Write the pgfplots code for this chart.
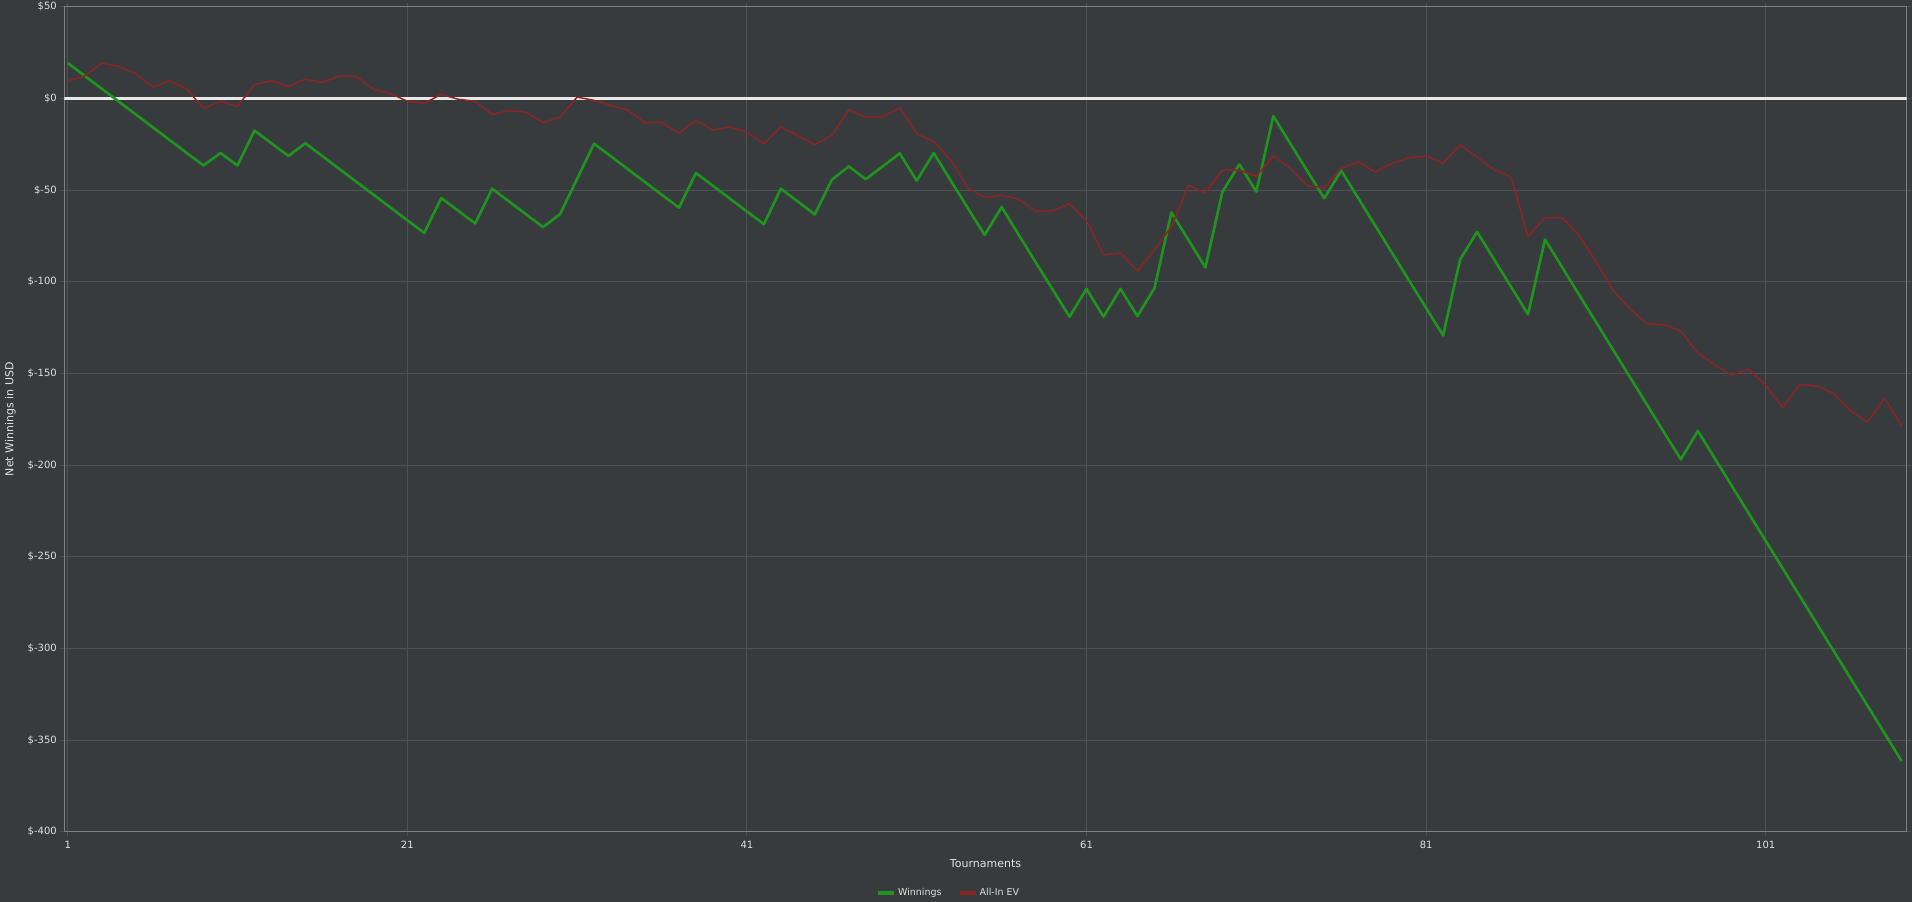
\documentclass[border=0pt]{standalone}
\usepackage{pgfplots}
\pgfplotsset{compat=1.18}
\usepackage{fontspec}
\setmainfont{DejaVu Sans}
\definecolor{bg}{RGB}{56,59,62}
\definecolor{gridc}{RGB}{78,81,85}
\definecolor{axc}{RGB}{128,128,128}
\definecolor{txt}{RGB}{224,224,224}
\definecolor{win}{RGB}{30,150,30}
\definecolor{ev}{RGB}{140,36,36}
\definecolor{zero}{RGB}{232,232,232}

\pgfplotstableread{
x y
1 19.3
2 12.3
3 5.3
4 -1.7
5 -8.7
6 -15.7
7 -22.7
8 -29.7
9 -36.6
10 -29.8
11 -36.6
12 -17.6
13 -24.5
14 -31.4
15 -24.5
16 -31.5
17 -38.5
18 -45.5
19 -52.5
20 -59.5
21 -66.5
22 -73.4
23 -54.4
24 -61.3
25 -68.2
26 -49.3
27 -56.3
28 -63.3
29 -70.2
30 -63.1
31 -43.9
32 -24.7
33 -31.7
34 -38.7
35 -45.7
36 -52.7
37 -59.6
38 -40.7
39 -47.7
40 -54.7
41 -61.7
42 -68.6
43 -49.3
44 -56.3
45 -63.3
46 -44.4
47 -37.1
48 -44.1
49 -37.1
50 -30.0
51 -44.9
52 -29.8
53 -44.8
54 -59.7
55 -74.5
56 -59.3
57 -74.3
58 -89.3
59 -104.2
60 -119.1
61 -103.9
62 -119.1
63 -103.9
64 -118.8
65 -103.5
66 -62.2
67 -77.2
68 -92.2
69 -51.1
70 -36.0
71 -50.9
72 -9.6
73 -24.6
74 -39.6
75 -54.5
76 -39.4
77 -54.4
78 -69.4
79 -84.4
80 -99.4
81 -114.4
82 -129.3
83 -87.9
84 -72.8
85 -87.8
86 -102.8
87 -117.8
88 -77.0
89 -92.0
90 -107.0
91 -122.0
92 -137.0
93 -152.0
94 -167.0
95 -182.0
96 -196.9
97 -181.4
98 -196.4
99 -211.4
100 -226.4
101 -241.4
102 -256.4
103 -271.4
104 -286.4
105 -301.4
106 -316.4
107 -331.4
108 -346.4
109 -361.5
}\winnings

\pgfplotstableread{
x y
1 9.6
2 12.2
3 19.1
4 17.5
5 13.5
6 6.2
7 9.6
8 5.1
9 -5.5
10 -1.5
11 -4.4
12 7.5
13 9.6
14 6.5
15 10.5
16 8.7
17 12.2
18 12.0
19 4.9
20 2.7
21 -1.6
22 -2.7
23 2.2
24 -0.5
25 -1.6
26 -8.7
27 -6.7
28 -7.6
29 -13.1
30 -10.2
31 0.7
32 -1.1
33 -3.8
34 -6.5
35 -13.3
36 -13.1
37 -19.1
38 -11.8
39 -17.3
40 -15.6
41 -18.5
42 -24.7
43 -15.5
44 -20.2
45 -25.3
46 -20.2
47 -6.2
48 -10.2
49 -10.2
50 -5.1
51 -19.3
52 -23.6
53 -33.5
54 -48.7
55 -54.0
56 -52.9
57 -54.9
58 -61.6
59 -61.3
60 -57.5
61 -66.7
62 -85.3
63 -84.4
64 -94.2
65 -82.5
66 -70.0
67 -47.6
68 -51.6
69 -39.1
70 -39.1
71 -42.5
72 -31.3
73 -38.2
74 -47.6
75 -48.9
76 -38.2
77 -34.6
78 -40.1
79 -35.6
80 -32.3
81 -31.4
82 -35.4
83 -25.2
84 -32.0
85 -38.9
86 -42.9
87 -75.4
88 -65.1
89 -65.0
90 -74.5
91 -89.0
92 -104.6
93 -114.8
94 -122.9
95 -123.5
96 -126.9
97 -138.8
98 -145.5
99 -150.9
100 -147.8
101 -156.4
102 -168.7
103 -156.0
104 -156.9
105 -160.9
106 -170.5
107 -176.5
108 -163.5
109 -178.7
}\allinev

\begin{document}
\begin{tikzpicture}
\fill[bg] (0,0) rectangle (1912pt,902pt);
\useasboundingbox (0,0) rectangle (1912pt,902pt);
\begin{axis}[
  at={(64.3pt,70.3pt)}, anchor=south west,
  scale only axis,
  width=1842.4pt, height=825pt,
  xmin=0.8, xmax=109.3,
  ymin=-400, ymax=50,
  xtick={1,21,41,61,81,101},
  xticklabels={1,21,41,61,81,101},
  ytick={-400,-350,-300,-250,-200,-150,-100,-50,0,50},
  yticklabels={\$-400,\$-350,\$-300,\$-250,\$-200,\$-150,\$-100,\$-50,\$0,\$50},
  grid=major,
  grid style={gridc, line width=1pt},
  tick align=outside,
  major tick length=4pt,
  tick style={gridc, line width=1pt},
  axis line style={axc, line width=1.6pt},
  tick label style={font=\fontsize{10}{12}\selectfont, text=txt},
  xticklabel style={yshift=-2pt},
  xlabel={Tournaments},
  ylabel={Net Winnings in USD},
  label style={font=\fontsize{11}{13}\selectfont, text=txt},
  xlabel style={at={([yshift=-31.5pt]axis description cs:0.5,0)}, anchor=center},
  ylabel style={at={([xshift=-54pt]axis description cs:0,0.5)}, anchor=center},
  legend columns=2,
  legend style={at={([yshift=-61.3pt]axis description cs:0.48,0)}, anchor=center,
    draw=none, fill=none, text=txt, font=\fontsize{9.5}{11}\selectfont,
    /tikz/every even column/.append style={column sep=14pt}},
  legend image code/.code={\draw[line width=4pt] (0pt,0pt) -- (16pt,0pt);},
]
\addplot[zero, line width=2.6pt, forget plot] coordinates {(0.8,0) (109.3,0)};
\addplot[win, line width=2.6pt, line join=round] table[x=x,y=y] {\winnings};
\addlegendentry{Winnings}
\addplot[ev, line width=1.5pt, line join=round] table[x=x,y=y] {\allinev};
\addlegendentry{All-In EV}
\end{axis}
\end{tikzpicture}
\end{document}
